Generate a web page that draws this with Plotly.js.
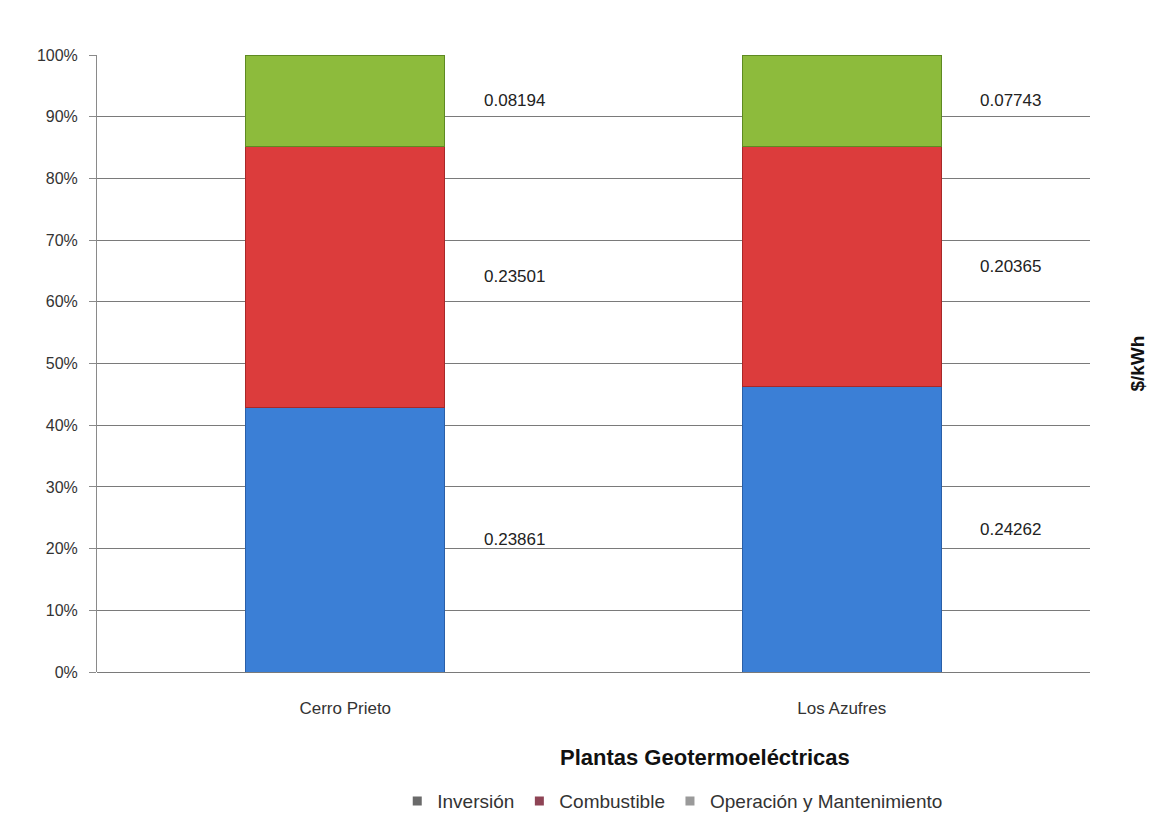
<!DOCTYPE html>
<html><head><meta charset="utf-8">
<script src="https://cdn.plot.ly/plotly-3.0.1.min.js"></script>
<style>body{margin:0;background:#fff}#c{width:1170px;height:815px}</style>
</head><body><div id="c"></div>
<script>
const categories = ['Cerro Prieto', 'Los Azufres'];
const inversion = [0.23861, 0.24262];
const combustible = [0.23501, 0.20365];
const operacion = [0.08194, 0.07743];
const seriesNames = ['Inversión', 'Combustible', 'Operación y Mantenimiento'];
const barColors = ['#3b7fd6', '#dc3c3c', '#8dbb3c'];
const lineColors = ['#2a5fa8', '#a82828', '#5e8a22'];
const legendColors = ['#6a6a6a', '#8e4455', '#9a9a9a'];

const series = [inversion, combustible, operacion];
const traces = series.map((vals, i) => ({
  type: 'bar', x: categories, y: vals, name: seriesNames[i], showlegend: false,
  marker: {color: barColors[i], line: {color: lineColors[i], width: 1}},
  width: 0.4, hoverinfo: 'none'
}));
seriesNames.forEach((n, i) => traces.push({
  type: 'scatter', mode: 'markers', x: [null], y: [null], name: n,
  marker: {symbol: 'square', size: 9, color: legendColors[i]}
}));

const fam = 'Liberation Sans, Arial, sans-serif';
const annotations = [];
categories.forEach((c, ci) => {
  const total = series.reduce((s, a) => s + a[ci], 0);
  let cum = 0;
  series.forEach((vals, si) => {
    const mid = (cum + vals[ci] / 2) / total * 100;
    cum += vals[ci];
    annotations.push({
      xref: 'x', yref: 'y', x: ci + 0.34, y: mid, text: vals[ci].toFixed(5),
      showarrow: false, font: {family: fam, size: 17, color: '#222'}
    });
  });
});
annotations.push({
  xref: 'paper', yref: 'paper', x: 1.06, y: 0.5, text: '<b>$/kWh</b>', textangle: -90,
  showarrow: false, font: {family: fam, size: 19, color: '#111'}
});
annotations.push({
  xref: 'paper', yref: 'paper', x: 0.612, y: -0.138, yanchor: 'middle',
  text: '<b>Plantas Geotermoeléctricas</b>',
  showarrow: false, font: {family: fam, size: 22, color: '#111'}
});

const layout = {
  width: 1170, height: 815,
  margin: {l: 97, r: 80, t: 55, b: 143},
  barmode: 'stack', barnorm: 'percent',
  paper_bgcolor: '#fff', plot_bgcolor: '#fff',
  font: {family: fam, size: 15, color: '#333'},
  xaxis: {
    type: 'category', range: [-0.5, 1.5], showline: false, ticks: '', showgrid: false,
    tickfont: {size: 17, color: '#333'}, ticklabelstandoff: 24
  },
  yaxis: {
    range: [0, 100], dtick: 10, ticksuffix: '%', showgrid: true, gridcolor: '#7a7a7a', gridwidth: 1,
    showline: true, linecolor: '#8a8a8a', ticks: 'outside', ticklen: 7, tickcolor: '#8a8a8a',
    zeroline: true, zerolinecolor: '#7a7a7a', tickfont: {size: 16, color: '#333'},
    ticklabelstandoff: 8
  },
  showlegend: true,
  legend: {orientation: 'h', traceorder: 'normal', xref: 'container', yref: 'container',
    x: 0.575, xanchor: 'center', y: 0.017, yanchor: 'middle',
    font: {size: 19, color: '#333'}, itemwidth: 20},
  annotations: annotations
};
Plotly.newPlot('c', traces, layout, {displayModeBar: false, staticPlot: true});
</script>
</body></html>
